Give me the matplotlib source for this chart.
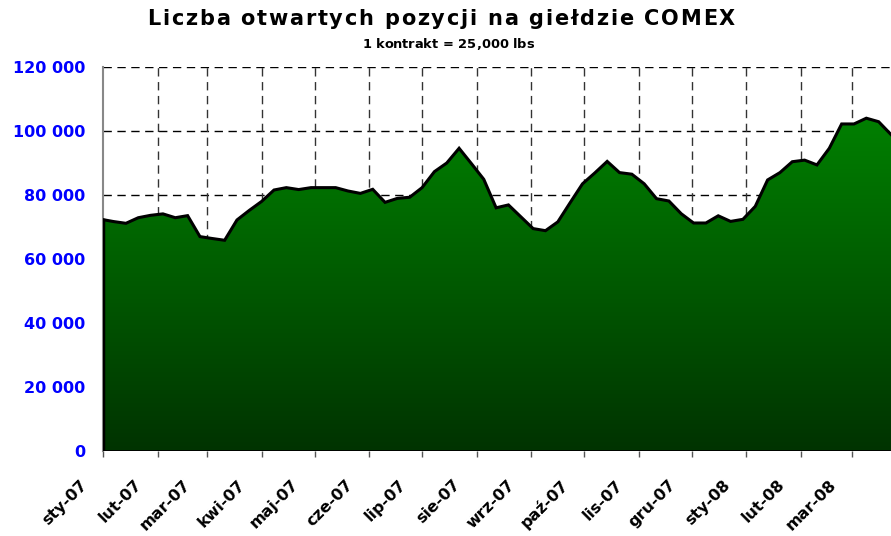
import numpy as np
import pandas as pd
import matplotlib
matplotlib.use("Agg")
import matplotlib.pyplot as plt
import matplotlib.dates as mdates
import matplotlib.transforms as mtransforms
from matplotlib.colors import LinearSegmentedColormap

plt.rcParams['font.family'] = ['DejaVu Sans']

start_date = "2006-12-31"
open_interest = [
    72400, 71700, 71150, 72900, 73650, 74100, 72900, 73550, 67000, 66400,
    65850, 72200, 75200, 78000, 81560, 82300, 81700, 82300, 82300, 82300,
    81250, 80500, 81780, 77700, 78950, 79300, 82300, 87300, 90000, 94600,
    89800, 84900, 76000, 76900, 73200, 69500, 68850, 71600, 77600, 83500,
    86900, 90500, 87000, 86500, 83500, 78850, 78130, 74150, 71250, 71250,
    73500, 71750, 72400, 76450, 84700, 87000, 90400, 90900, 89400, 94600,
    102200, 102200, 104000, 102900, 98900,
]
dates = pd.date_range(start_date, periods=len(open_interest), freq="7D")
month_ticks = pd.date_range("2007-01-01", "2008-03-01", freq="MS")
month_names = ['sty', 'lut', 'mar', 'kwi', 'maj', 'cze', 'lip', 'sie',
               'wrz', 'paź', 'lis', 'gru']
tick_labels = [f"{month_names[d.month-1]}-{d.strftime('%y')}" for d in month_ticks]
y_ticks = [0, 20000, 40000, 60000, 80000, 100000, 120000]
y_labels = ["0", "20 000", "40 000", "60 000", "80 000", "100 000", "120 000"]

title = "Liczba otwartych pozycji na giełdzie COMEX"
subtitle = "1 kontrakt = 25,000 lbs"

W, H = 891, 536
fig = plt.figure(figsize=(W/100, H/100), dpi=100)
ax = fig.add_axes([103/W, 1-451/H, 788/W, 384/H])
renderer = fig.canvas.get_renderer()


def text_width(s, **kw):
    t = fig.text(0, 0, s, **kw)
    w = t.get_window_extent(renderer).width
    t.remove()
    return w


def spaced_text(xc_px, yc_px, s, spacing, **kw):
    ref_w = text_width("x", **kw)
    pos = [text_width(s[:i] + "x", **kw) - ref_w for i in range(len(s))]
    total = text_width(s, **kw) + spacing * (len(s) - 1)
    x0 = xc_px - total / 2
    for i, ch in enumerate(s):
        if ch == " ":
            continue
        fig.text((x0 + pos[i] + i * spacing) / W, 1 - yc_px / H, ch,
                 ha='left', va='center', **kw)


x = mdates.date2num(dates)
y = np.array(open_interest, dtype=float)

xmin = mdates.date2num(pd.Timestamp("2007-01-01"))
xmax = x[-1]

# gridlines
for t in y_ticks[1:]:
    ax.axhline(t, color='black', lw=1.0, ls=(0, (6, 4)), zorder=1)
for d in mdates.date2num(month_ticks)[1:]:
    ax.axvline(d, color='#333333', lw=1.0, ls=(0, (6, 4)), zorder=1)

poly = ax.fill_between(x, y, 0, facecolor='none', edgecolor='none', zorder=2)
cmap = LinearSegmentedColormap.from_list('g', [(0, 0.20, 0), (0, 0.5, 0)])
grad = np.linspace(0, 1, 256).reshape(-1, 1)
im = ax.imshow(grad, aspect='auto', cmap=cmap, origin='lower',
               extent=[x[0], x[-1], 0, y.max()], zorder=2)
im.set_clip_path(poly.get_paths()[0], transform=ax.transData)

ax.plot(x, y, color='black', lw=2.2, zorder=3, solid_joinstyle='miter')
ax.axhline(0, color='black', lw=2.0, zorder=3)
ax.plot([xmin, xmin], [0, np.interp(xmin, x, y)], color='black', lw=2.5, zorder=3)

ax.set_xlim(xmin, xmax)
ax.set_ylim(0, 120000)

ax.set_yticks(y_ticks)
ax.set_yticklabels(y_labels, color='#0000FF', fontweight='bold', fontsize=11.5)
ax.tick_params(axis='y', length=0, pad=13)

ax.set_xticks(mdates.date2num(month_ticks))
ax.set_xticklabels(tick_labels, rotation=45, ha='right', va='top',
                   rotation_mode='anchor', fontweight='bold', fontsize=11.5)
ax.tick_params(axis='x', length=4, width=1, color='#555555', pad=4)
offset = mtransforms.ScaledTranslation(-24/100, -15/100, fig.dpi_scale_trans)
for lab in ax.get_xticklabels():
    lab.set_transform(lab.get_transform() + offset)

for s in ['top', 'right', 'bottom']:
    ax.spines[s].set_visible(False)
ax.spines['left'].set_color('#888888')
ax.spines['left'].set_linewidth(1.5)

spaced_text(441, 19, title, 1.75, fontweight='bold', fontsize=15)
spaced_text(448, 45, subtitle, 0.0, fontweight='bold', fontsize=9.4)

fig.savefig("out.png", dpi=100)
